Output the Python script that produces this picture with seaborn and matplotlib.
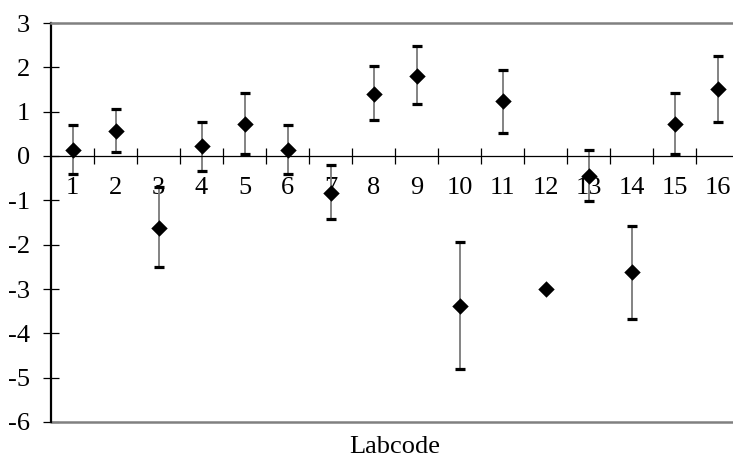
import numpy as np
import pandas as pd
import matplotlib
matplotlib.use("Agg")
import matplotlib.pyplot as plt
import seaborn as sns
from matplotlib.ticker import FixedLocator

# ---- data ----
labcodes = list(range(1, 17))
values = [0.14, 0.57, -1.62, 0.23, 0.72, 0.14, -0.83, 1.40, 1.81, -3.39, 1.23, -3.00, -0.44, -2.62, 0.72, 1.51]
upper = [0.69, 1.07, -0.69, 0.77, 1.41, 0.69, -0.20, 2.02, 2.47, -1.95, 1.94, np.nan, 0.14, -1.58, 1.41, 2.26]
lower = [-0.41, 0.09, -2.51, -0.33, 0.04, -0.41, -1.43, 0.81, 1.17, -4.81, 0.51, np.nan, -1.02, -3.67, 0.04, 0.76]
ytick_values = [3, 2, 1, 0, -1, -2, -3, -4, -5, -6]
xlabel = "Labcode"

df = pd.DataFrame({"lab": labcodes, "value": values, "upper": upper, "lower": lower})

sns.set_theme(style="white")
plt.rcParams["font.family"] = ["Liberation Serif", "DejaVu Serif"]

FS = 19

fig = plt.figure(figsize=(7.33, 4.66), dpi=100)
ax = fig.add_axes([51 / 733, 44 / 466, 688 / 733, 399 / 466])

# error bars
eb = ax.errorbar(df["lab"], df["value"],
                 yerr=[df["value"] - df["lower"], df["upper"] - df["value"]],
                 fmt="none", ecolor="#7a7a7a", elinewidth=1.3,
                 capsize=3.6, capthick=2.3, zorder=2)
for cl in eb[1]:
    cl.set_markeredgecolor("black")
    cl.set_color("black")

# markers
sns.scatterplot(data=df, x="lab", y="value", marker="D", s=70, color="black",
                edgecolor="black", linewidth=0, ax=ax, zorder=3)

ax.set_xlim(0.5, 16.5)
ax.set_ylim(-6, 3)

# spines
ax.spines["left"].set_color("black")
ax.spines["left"].set_linewidth(1.6)
ax.spines["top"].set_color("#808080")
ax.spines["top"].set_linewidth(1.8)
ax.spines["right"].set_visible(False)
ax.spines["bottom"].set_position(("data", 0))
ax.spines["bottom"].set_color("black")
ax.spines["bottom"].set_linewidth(0.9)
ax.axhline(-6, color="#808080", lw=1.8, clip_on=False, zorder=1)

# x ticks: labels at centers, tick marks at category boundaries
ax.set_xticks(labcodes)
ax.set_xticklabels([str(v) for v in labcodes])
ax.xaxis.set_minor_locator(FixedLocator([v + 0.5 for v in labcodes[:-1]]))
ax.tick_params(axis="x", which="major", length=0, pad=15, labelsize=FS, colors="black")
ax.tick_params(axis="x", which="minor", direction="inout", length=11.5, width=0.9,
               color="black", bottom=True)

# y ticks
ax.set_yticks(ytick_values)
ax.set_yticklabels([str(v) for v in ytick_values])
ax.tick_params(axis="y", which="major", direction="inout", length=12, width=0.9,
               pad=9, labelsize=FS, color="black", left=True, labelcolor="black")

ax.set_xlabel(xlabel, fontsize=FS, color="black")
ax.xaxis.set_label_coords(0.5, -0.062)
ax.xaxis.label.set_va("center")
ax.set_ylabel("")
ax.grid(False)

fig.savefig("out.png", dpi=100)
